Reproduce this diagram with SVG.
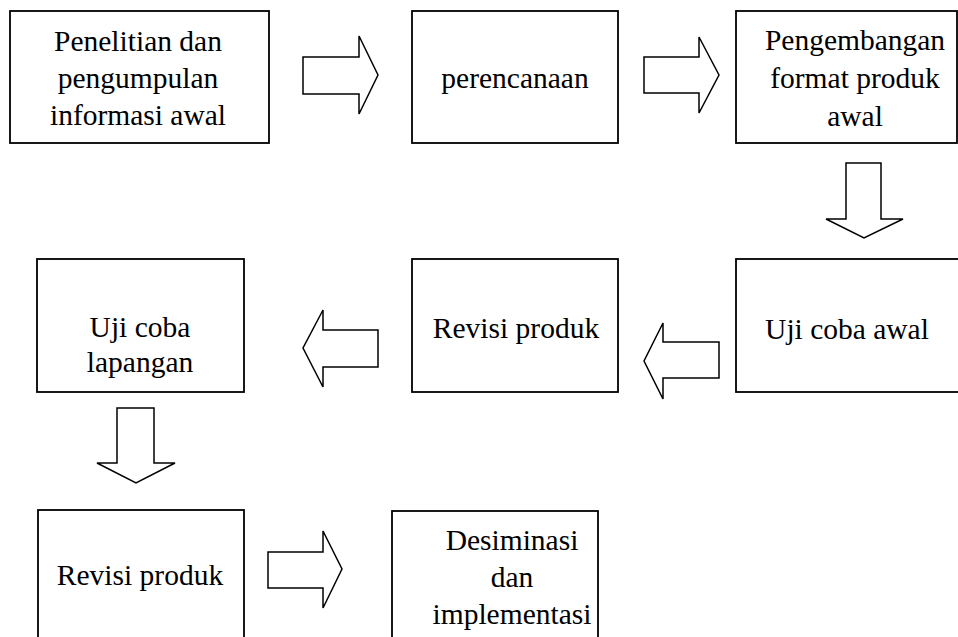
<svg xmlns="http://www.w3.org/2000/svg" width="958" height="637" viewBox="0 0 958 637">
<style>
.box{fill:#fff;stroke:#000;stroke-width:1.8}
.arr{fill:#fff;stroke:#000;stroke-width:1.5;stroke-linejoin:miter}
.t{font-family:'Liberation Serif','Times New Roman',Tinos,'DejaVu Serif',serif;font-size:29.5px;fill:#000;text-anchor:middle}
</style>
<rect width="958" height="637" fill="#fff"/>
<g id="connectors">
<polygon class="arr" points="303,57 359,57 359,36 378,75 359,114 359,94 303,94"/>
<polygon class="arr" points="644,57 699,57 699,37 719,75 699,113 699,93 644,93"/>
<polygon class="arr" points="846,163 881,163 881,219 903,219 864,238 826,219 846,219"/>
<polygon class="arr" points="719,342 663,342 663,323 644,361 663,399 663,378 719,378"/>
<polygon class="arr" points="378,330 323,330 323,310 303,348 323,387 323,367 378,367"/>
<polygon class="arr" points="117,408 154,408 154,463 175,463 136,483 97,463 117,463"/>
<polygon class="arr" points="268,552 323,552 323,531 342,569 323,608 323,588 268,588"/>
</g>
<g class="t" font-family="Liberation Serif, Times New Roman, serif">
<g id="n1"><rect class="box" x="10" y="11" width="259" height="132"/>
<text x="138" y="51">Penelitian dan</text><text x="138" y="88">pengumpulan</text><text x="138" y="125">informasi awal</text></g>
<g id="n2"><rect class="box" x="412" y="11" width="206" height="132"/>
<text x="515" y="88">perencanaan</text></g>
<g id="n3"><rect class="box" x="736" y="11" width="221" height="132"/>
<text x="855" y="50">Pengembangan</text><text x="855" y="88">format produk</text><text x="855" y="126">awal</text></g>
<g id="n4"><rect class="box" x="736" y="259" width="230" height="133"/>
<text x="847" y="339">Uji coba awal</text></g>
<g id="n5"><rect class="box" x="412" y="259" width="206" height="133"/>
<text x="516" y="338">Revisi produk</text></g>
<g id="n6"><rect class="box" x="37" y="259" width="207" height="133"/>
<text x="140" y="337">Uji coba</text><text x="140" y="372">lapangan</text></g>
<g id="n7"><rect class="box" x="38" y="510" width="206" height="140"/>
<text x="140" y="585">Revisi produk</text></g>
<g id="n8"><rect class="box" x="392" y="511" width="206" height="140"/>
<text x="512" y="550">Desiminasi</text><text x="512" y="587">dan</text><text x="512" y="624">implementasi</text></g>
</g>
</svg>
